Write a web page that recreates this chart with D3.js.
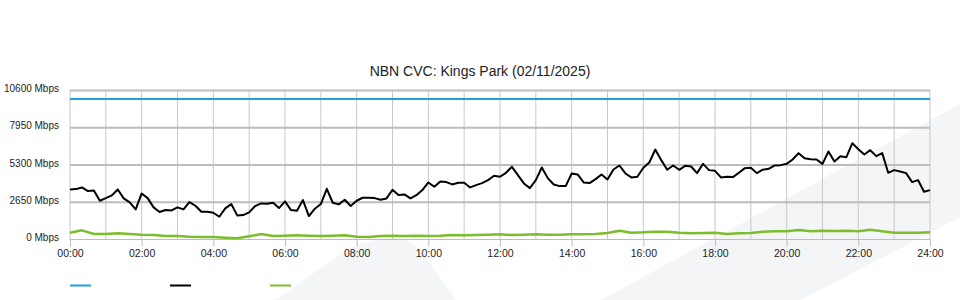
<!DOCTYPE html>
<html>
<head>
<meta charset="utf-8">
<script src="https://cdn.jsdelivr.net/npm/d3@7/dist/d3.min.js"></script>
<style>
  body { margin: 0; background: #fff; }
  svg { display: block; font-family: "Liberation Sans", Arial, sans-serif; }
  .axis text { fill: #222; }
</style>
</head>
<body>
<svg id="chart" width="960" height="300"></svg>
<script>
var margin = {top: 90.5, right: 30, bottom: 60.5, left: 70},
  width = 960 - margin.left - margin.right,
  height = 300 - margin.top - margin.bottom;

var title = "NBN CVC: Kings Park (02/11/2025)";

// y ticks (Mbps) and x tick labels (every 2 hours)
var yTicks = [0, 2650, 5300, 7950, 10600];
var xTickLabels = ["00:00", "02:00", "04:00", "06:00", "08:00", "10:00", "12:00",
  "14:00", "16:00", "18:00", "20:00", "22:00", "24:00"];

// CVC capacity (blue), read at start and end of day
var capacityTimes = [0, 1440];
var capacityValues = [10000, 10000];

// black series, one value every 10 minutes from 00:00 to 24:00
var blackStep = 10;
var blackValues = [
  3562, 3585, 3704, 3443, 3491, 2757, 2946, 3136, 3562, 2923,
  2639, 2142, 3278, 2946, 2284, 1952, 2094, 2071, 2284, 2142,
  2662, 2402, 1976, 1976, 1905, 1621, 2213, 2520, 1716, 1740,
  1929, 2379, 2568, 2544, 2615, 2237, 2710, 2094, 2047, 2805,
  1669, 2189, 2520, 3609, 2615, 2497, 2828, 2379, 2757, 2970,
  2970, 2946, 2828, 2923, 3538, 3160, 3207, 2923, 3150, 3515,
  4059, 3751, 4130, 4083, 3917, 4035, 4035, 3704, 3870, 4012,
  4225, 4532, 4461, 4745, 5171, 4580, 3988, 3657, 4225, 5124,
  4367, 3917, 3799, 3799, 4698, 4627, 4059, 4012, 4296, 4627,
  4272, 4982, 5266, 4698, 4414, 4461, 5100, 5479, 6400, 5645,
  4958, 5266, 4958, 5242, 5195, 4722, 5384, 4935, 4887, 4414,
  4461, 4438, 4745, 5077, 5100, 4722, 4970, 5029, 5266, 5290,
  5384, 5692, 6142, 5787, 5716, 5692, 5384, 6260, 5550, 5929,
  5858, 6850, 6426, 6047, 6355, 5929, 6142, 4745, 4935, 4840,
  4722, 4083, 4225, 3396, 3515
];

// green series, one value every 20 minutes
var greenStep = 20;
var greenValues = [
  485, 651, 390, 390, 438, 390, 343, 320, 249, 249,
  201, 178, 178, 130, 83, 225, 390, 249, 272, 296,
  272, 249, 272, 296, 201, 178, 249, 272, 249, 272,
  249, 272, 320, 296, 320, 343, 367, 320, 343, 367,
  343, 343, 367, 367, 390, 462, 627, 485, 509, 556,
  556, 485, 438, 462, 485, 390, 438, 462, 556, 580,
  580, 675, 580, 627, 604, 627, 580, 698, 580, 485,
  485, 485, 509
];

var colors = {capacity: "#1f9fdd", black: "#000000", green: "#7cbd2b"};

var svg = d3.select("#chart");

// background watermark bands
svg.append("path")
  .attr("d", "M275,300 L350,248 Q400,228 418,248 L456,300 Z")
  .attr("fill", "#f4f5f7");
svg.append("path")
  .attr("d", "M601,300 L960,104 L960,217 L801,300 Z")
  .attr("fill", "#f4f5f7");

var x = d3.scaleLinear()
  .domain([0, 1440])
  .range([margin.left, margin.left + width]);

var y = d3.scaleLinear()
  .domain([0, 10600])
  .range([margin.top + height, margin.top]);

// vertical grid, every hour
svg.append("g")
  .selectAll("line")
  .data(d3.range(0, 1441, 60))
  .join("line")
  .attr("x1", d => x(d)).attr("x2", d => x(d))
  .attr("y1", y(10600)).attr("y2", y(0))
  .attr("stroke", "#c8c8c8")
  .attr("stroke-width", 1);

// horizontal grid
svg.append("g")
  .selectAll("line")
  .data(yTicks)
  .join("line")
  .attr("x1", x(0)).attr("x2", x(1440))
  .attr("y1", d => y(d)).attr("y2", d => y(d))
  .attr("stroke", "#bdbdbd")
  .attr("stroke-width", d => d === 0 ? 1 : 2);

// axes
var xAxis = d3.axisBottom(x)
  .tickValues(xTickLabels.map((d, i) => i * 120))
  .tickFormat((d, i) => xTickLabels[i])
  .tickSize(7)
  .tickPadding(3);

svg.append("g")
  .attr("class", "axis")
  .attr("transform", "translate(0," + y(0) + ")")
  .attr("font-size", 10.5)
  .call(xAxis)
  .call(g => g.select(".domain").remove())
  .call(g => g.selectAll(".tick line").attr("stroke", "#bdbdbd"))
  .call(g => g.selectAll(".tick text").attr("font-size", 10.5));

var yAxis = d3.axisLeft(y)
  .tickValues(yTicks)
  .tickFormat(d => d + " Mbps")
  .tickSize(0)
  .tickPadding(11);

svg.append("g")
  .attr("class", "axis")
  .attr("transform", "translate(" + x(0) + ",0)")
  .call(yAxis)
  .call(g => g.select(".domain").remove())
  .call(g => g.selectAll(".tick text").attr("font-size", 10).attr("dy", "0.12em"));

// lines
var line = d3.line()
  .x(d => x(d[0]))
  .y(d => y(d[1]));

var series = [
  {color: colors.capacity, w: 2, pts: capacityTimes.map((t, i) => [t, capacityValues[i]])},
  {color: colors.green, w: 2.5, pts: greenValues.map((v, i) => [i * greenStep, v])},
  {color: colors.black, w: 2, pts: blackValues.map((v, i) => [i * blackStep, v])}
];

svg.append("g")
  .selectAll("path")
  .data(series)
  .join("path")
  .attr("d", d => line(d.pts))
  .attr("fill", "none")
  .attr("stroke", d => d.color)
  .attr("stroke-width", d => d.w)
  .attr("stroke-linejoin", "round");

// title
svg.append("text")
  .attr("x", 480)
  .attr("y", 76)
  .attr("text-anchor", "middle")
  .attr("font-size", 14)
  .attr("fill", "#222")
  .text(title);

// legend swatches (no labels in the original)
var legendColors = [colors.capacity, colors.black, colors.green];
svg.append("g")
  .selectAll("line")
  .data(legendColors)
  .join("line")
  .attr("x1", (d, i) => 70 + i * 100)
  .attr("x2", (d, i) => 91 + i * 100)
  .attr("y1", 285.5).attr("y2", 285.5)
  .attr("stroke", d => d)
  .attr("stroke-width", 2);
</script>
</body>
</html>
